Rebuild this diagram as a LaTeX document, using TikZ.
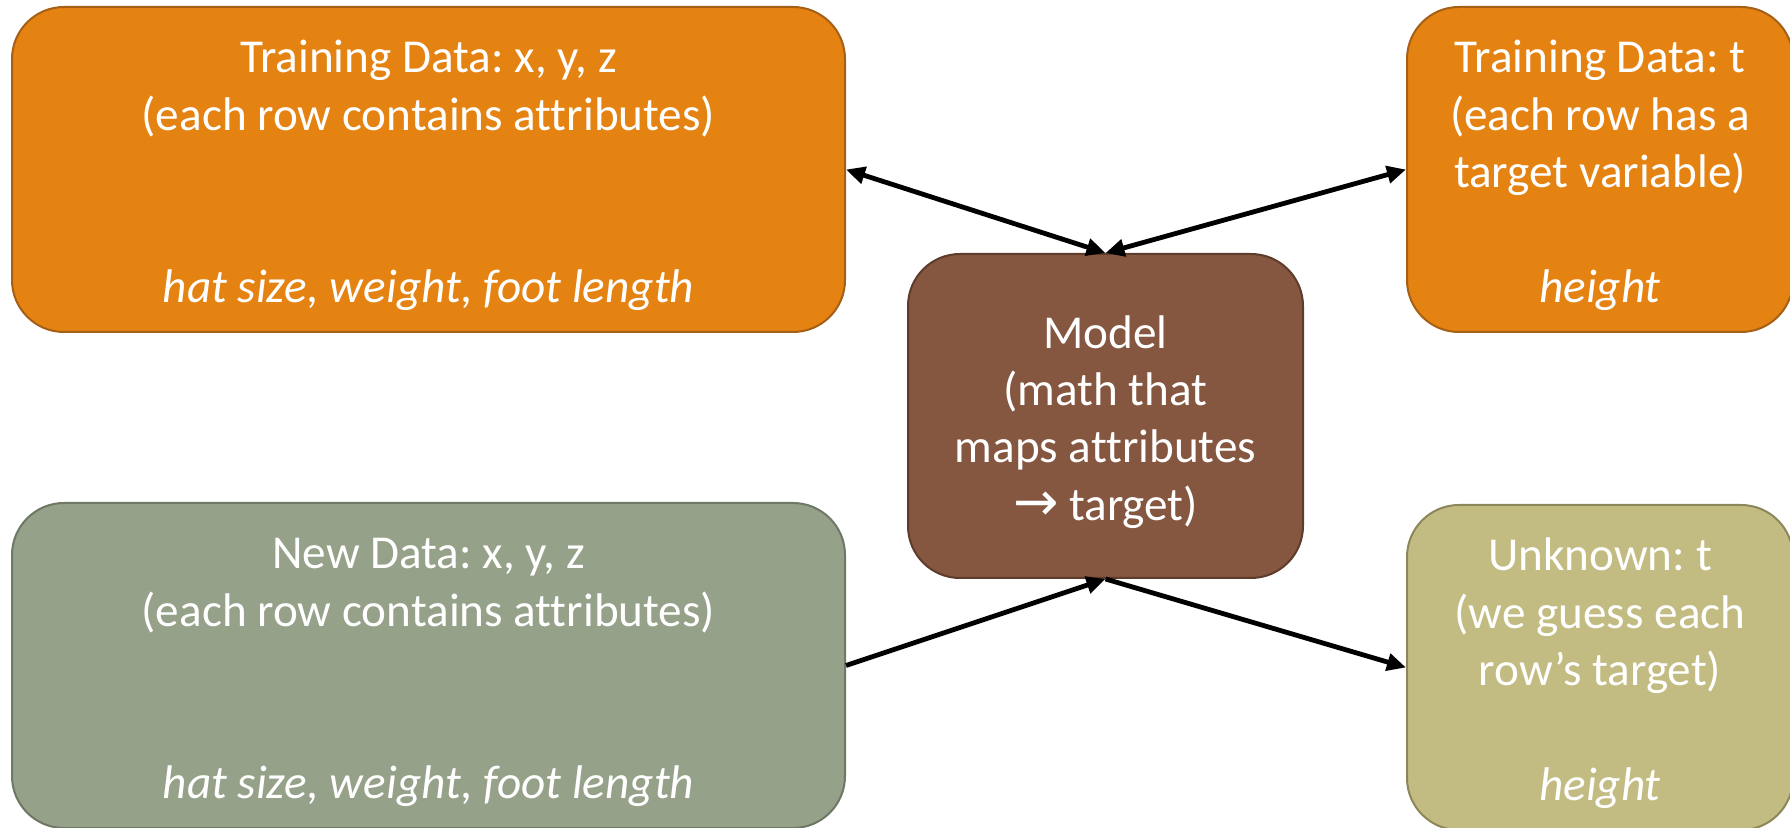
\documentclass[tikz,border=0pt]{standalone}
\usepackage{fontspec}
\setmainfont{Carlito}[Ligatures=NoCommon]
\newfontfamily\arrowfont{DejaVu Sans}
\usepackage{tikz}
\usetikzlibrary{arrows.meta}
\frenchspacing

\definecolor{trainorange}{RGB}{228,130,18}
\definecolor{trainedge}{RGB}{166,96,22}
\definecolor{modelbrown}{RGB}{133,86,64}
\definecolor{modeledge}{RGB}{94,60,44}
\definecolor{newgreen}{RGB}{150,161,137}
\definecolor{newedge}{RGB}{110,120,100}
\definecolor{guesskhaki}{RGB}{195,188,130}
\definecolor{guessedge}{RGB}{140,135,90}

% lines of a box, set a little lower than TeX would centre them
\newcommand{\boxlines}[1]{\raisebox{-3.4pt}[\height][\depth]{\begin{tabular}{@{}c@{}}#1\end{tabular}}}

\begin{document}
\begin{tikzpicture}[x=0.5pt,y=-0.5pt,
  box/.style={draw, line width=1pt, rounded corners=26pt, text=white,
    inner sep=0pt, font=\fontsize{23.6pt}{28.7pt}\selectfont},
  link/.style={line width=2.4pt, black},
  tip/.tip={Triangle[length=9.5pt,width=8.5pt]}]
\useasboundingbox (0,0) rectangle (1790,828);

% data boxes
\node[box, fill=trainorange, draw=trainedge, minimum width=416.5pt, minimum height=162.5pt]
  (trainx) at (428.5,169.5) {\boxlines{Training Data: x, y, z\\(each row contains attributes)\\~\\~\\\textit{hat size, weight, foot length}}};
\node[box, fill=trainorange, draw=trainedge, minimum width=193pt, minimum height=162.5pt]
  (trainy) at (1600,169.5) {\boxlines{Training Data: t\\(each row has a\\target variable)\\~\\\textit{height}}};
\node[box, fill=newgreen, draw=newedge, minimum width=416.5pt, minimum height=162.5pt]
  (newx) at (428.5,665.5) {\boxlines{New Data: x, y, z\\(each row contains attributes)\\~\\~\\\textit{hat size, weight, foot length}}};
\node[box, fill=guesskhaki, draw=guessedge, minimum width=193pt, minimum height=162.5pt]
  (guess) at (1600,667.5) {\boxlines{Unknown: t\\(we guess each\\row’s target)\\~\\\textit{height}}};

% model
\node[box, fill=modelbrown, draw=modeledge, minimum width=197.5pt, minimum height=162pt]
  (model) at (1105.5,416) {\boxlines{Model\\(math that\\maps attributes\\{\arrowfont\scalebox{1.15}{→}} target)}};

% connectors
\draw[link, tip-tip] (trainx.east) -- (model.north);
\draw[link, tip-tip] (model.north) -- (trainy.west);
\draw[link, -tip] (newx.east) -- (model.south);
\draw[link, -tip] (model.south) -- (guess.west);
\end{tikzpicture}
\end{document}
